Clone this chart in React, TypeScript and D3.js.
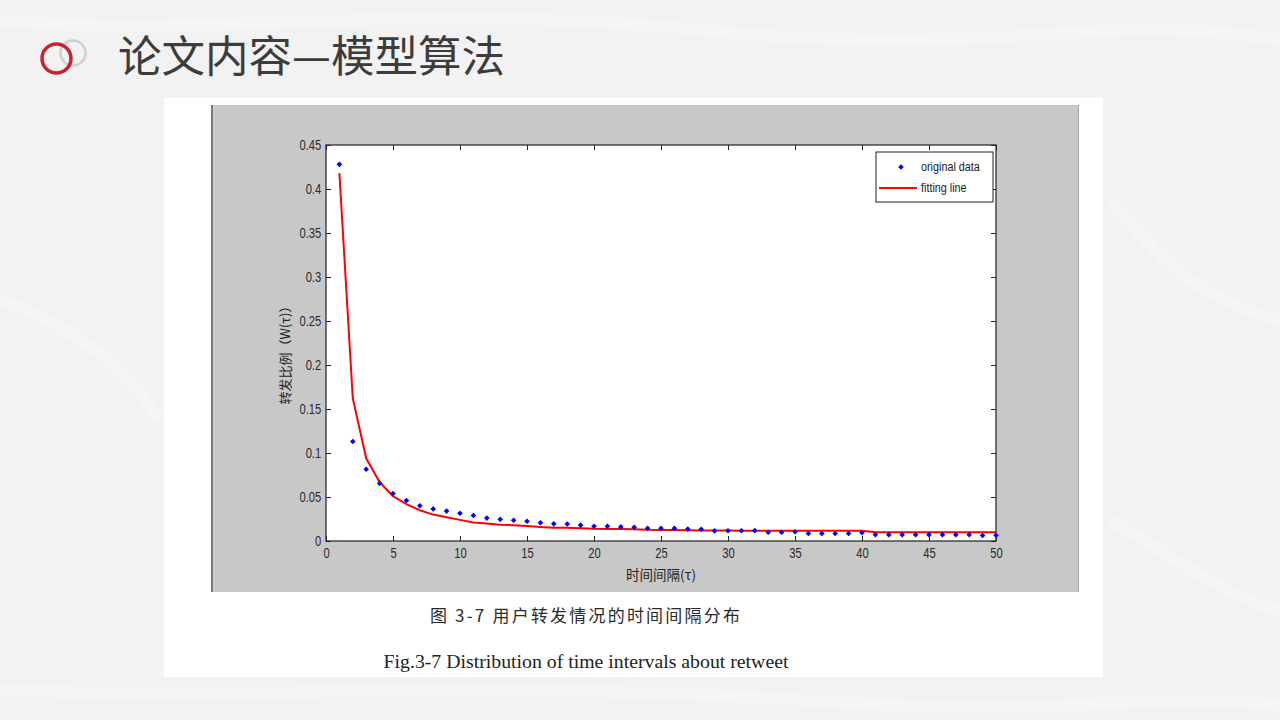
import React, { useEffect, useRef } from 'react';
import * as d3 from 'd3';

// 时间间隔 τ
const intervals = [
  1, 2, 3, 4, 5, 6, 7, 8, 9, 10, 11, 12, 13, 14, 15, 16, 17, 18, 19, 20, 21, 22, 23, 24, 25,
  26, 27, 28, 29, 30, 31, 32, 33, 34, 35, 36, 37, 38, 39, 40, 41, 42, 43, 44, 45, 46, 47, 48, 49, 50,
];
// original data
const originalData = [
  0.428, 0.113, 0.0815, 0.0655, 0.054, 0.046, 0.04, 0.0365, 0.034, 0.0315,
  0.029, 0.026, 0.0246, 0.0235, 0.0224, 0.0208, 0.0195, 0.0193, 0.018, 0.0168,
  0.0167, 0.016, 0.0155, 0.0145, 0.0144, 0.0144, 0.0135, 0.0133, 0.0115, 0.0117,
  0.0117, 0.0118, 0.01, 0.01, 0.0105, 0.0085, 0.0085, 0.0085, 0.0085, 0.0093,
  0.0073, 0.0072, 0.0072, 0.0072, 0.0072, 0.0072, 0.0072, 0.0072, 0.0062, 0.0065,
];
// fitting line
const fittingLine = [
  0.418, 0.162, 0.094, 0.067, 0.051, 0.042, 0.035, 0.03, 0.027, 0.024,
  0.021, 0.02, 0.0185, 0.018, 0.017, 0.016, 0.015, 0.015, 0.0145, 0.0138,
  0.0136, 0.0135, 0.0133, 0.0127, 0.0125, 0.0124, 0.0123, 0.012, 0.0119, 0.0118,
  0.0117, 0.0117, 0.0117, 0.0117, 0.0117, 0.0117, 0.0117, 0.0117, 0.0117, 0.0116,
  0.0099, 0.0099, 0.0099, 0.0099, 0.0099, 0.0099, 0.0099, 0.0099, 0.0099, 0.0099,
];
const xTicks = [0, 5, 10, 15, 20, 25, 30, 35, 40, 45, 50];
const yTicks = [0, 0.05, 0.1, 0.15, 0.2, 0.25, 0.3, 0.35, 0.4, 0.45];
const legendLabels = ['original data', 'fitting line'];

const sans = '"Liberation Sans", Arial, sans-serif';
const cjk = '"Noto Sans CJK SC", sans-serif';
// 窄字体没装，用横向压缩代替
const squeeze = 'scale(0.8,1)';

export default function App() {
  const ref = useRef<SVGSVGElement>(null);

  useEffect(() => {
    const svg = d3.select(ref.current);
    svg.selectAll('*').remove();

    // 背景
    svg.append('rect').attr('width', 1280).attr('height', 720).attr('fill', '#f2f2f2');
    const strokes = [
      'M0,20 C200,40 400,0 700,30 S1100,10 1280,40',
      'M0,690 C250,700 500,680 800,700 S1100,690 1280,705',
      'M1110,200 C1160,260 1200,300 1280,320',
      'M0,300 C60,320 120,360 160,420',
      'M1110,520 C1180,560 1230,600 1280,610',
    ];
    svg.append('g').selectAll('path').data(strokes).enter().append('path')
      .attr('d', d => d).attr('fill', 'none').attr('stroke', '#f7f7f7').attr('stroke-width', 12)
      .attr('opacity', 0.6);

    // 标题
    svg.append('circle').attr('cx', 73).attr('cy', 53).attr('r', 12.5)
      .attr('fill', 'none').attr('stroke', '#cfcfcf').attr('stroke-width', 2.5);
    svg.append('circle').attr('cx', 56.5).attr('cy', 58.5).attr('r', 14.5)
      .attr('fill', 'none').attr('stroke', '#c5242e').attr('stroke-width', 3.5);
    svg.append('text').attr('x', 118).attr('y', 72)
      .attr('font-family', cjk).attr('font-size', 43.5).attr('fill', '#3c3c3c')
      .text('论文内容—模型算法');

    // 白色底板 + 灰色图框
    svg.append('rect').attr('x', 164).attr('y', 98).attr('width', 939).attr('height', 579).attr('fill', '#ffffff');
    svg.append('rect').attr('x', 211).attr('y', 105).attr('width', 868).attr('height', 487).attr('fill', '#c8c8c8');
    svg.append('line').attr('x1', 212).attr('x2', 212).attr('y1', 105).attr('y2', 592)
      .attr('stroke', '#7a7a7a').attr('stroke-width', 2);
    svg.append('line').attr('x1', 1078.5).attr('x2', 1078.5).attr('y1', 105).attr('y2', 592)
      .attr('stroke', '#a8a8a8').attr('stroke-width', 1);

    const x = d3.scaleLinear().domain([0, 50]).range([326, 996]);
    const y = d3.scaleLinear().domain([0, 0.45]).range([541, 145]);

    svg.append('rect').attr('x', x(0)).attr('y', y(0.45))
      .attr('width', x(50) - x(0)).attr('height', y(0) - y(0.45))
      .attr('fill', '#ffffff');

    const fmt = (d: any) => String(+(+d).toFixed(2));

    const gx = svg.append('g').attr('transform', `translate(0,${y(0)})`)
      .call(d3.axisBottom(x).tickValues(xTicks).tickSize(-5).tickPadding(7).tickFormat(fmt));
    const gxTop = svg.append('g').attr('transform', `translate(0,${y(0.45)})`)
      .call(d3.axisTop(x).tickValues(xTicks).tickSize(-5).tickFormat(() => ''));
    const gy = svg.append('g').attr('transform', `translate(${x(0)},0)`)
      .call(d3.axisLeft(y).tickValues(yTicks).tickSize(-5).tickPadding(6).tickFormat(fmt));
    const gyRight = svg.append('g').attr('transform', `translate(${x(50)},0)`)
      .call(d3.axisRight(y).tickValues(yTicks).tickSize(-5).tickFormat(() => ''));

    [gx, gxTop, gy, gyRight].forEach(g => {
      g.select('.domain').remove();
      g.selectAll('line').attr('stroke', '#222');
      g.selectAll('text').attr('font-family', sans).attr('font-size', 14).attr('fill', '#2a2a2a')
        .attr('transform', squeeze);
    });

    svg.append('rect').attr('x', x(0)).attr('y', y(0.45))
      .attr('width', x(50) - x(0)).attr('height', y(0) - y(0.45))
      .attr('fill', 'none').attr('stroke', '#222').attr('stroke-width', 1.2);

    // 坐标轴标题
    svg.append('text').attr('x', (x(0) + x(50)) / 2).attr('y', 580).attr('text-anchor', 'middle')
      .attr('font-family', cjk).attr('font-size', 13.5).attr('fill', '#222')
      .text('时间间隔(τ)');
    svg.append('text').attr('transform', 'translate(290,352) rotate(-90)').attr('text-anchor', 'middle')
      .attr('font-family', cjk).attr('font-size', 13).attr('fill', '#222')
      .text('转发比例（W(τ)）');

    // fitting line
    const line = d3.line<number>()
      .x((d, i) => x(intervals[i]))
      .y(d => y(d));
    svg.append('path').datum(fittingLine).attr('d', line)
      .attr('fill', 'none').attr('stroke', '#ff0000').attr('stroke-width', 2);

    // original data
    const sym = d3.symbol().type(d3.symbolDiamond2).size(20);
    svg.append('g').selectAll('path').data(originalData).enter().append('path')
      .attr('transform', (d, i) => `translate(${x(intervals[i])},${y(d)})`)
      .attr('d', sym as any)
      .attr('fill', '#0000ff');

    // 图例
    const lg = svg.append('g');
    lg.append('rect').attr('x', 876).attr('y', 152).attr('width', 117).attr('height', 50)
      .attr('fill', '#ffffff').attr('stroke', '#222').attr('stroke-width', 1);
    lg.append('path').attr('transform', 'translate(901,167)').attr('d', sym as any).attr('fill', '#0000ff');
    lg.append('line').attr('x1', 879).attr('x2', 917).attr('y1', 188).attr('y2', 188)
      .attr('stroke', '#ff0000').attr('stroke-width', 2);
    lg.selectAll('text.lbl').data(legendLabels).enter().append('text')
      .attr('class', 'lbl')
      .attr('transform', (d, i) => `translate(921,${171 + i * 21}) ${squeeze}`)
      .attr('font-family', sans).attr('font-size', 13.5).attr('fill', '#222')
      .text(d => d);

    // 图注
    svg.append('text').attr('x', 586).attr('y', 622).attr('text-anchor', 'middle')
      .attr('font-family', '"Noto Sans CJK SC", serif')
      .attr('font-size', 17).attr('fill', '#2a2a2a')
      .attr('letter-spacing', 2.2)
      .text('图 3-7 用户转发情况的时间间隔分布');
    svg.append('text').attr('x', 586).attr('y', 668).attr('text-anchor', 'middle')
      .attr('font-family', '"Liberation Serif", serif').attr('font-size', 19.8).attr('fill', '#222')
      .text('Fig.3-7 Distribution of time intervals about retweet');
  }, []);

  return (
    <svg ref={ref} width={1280} height={720}
      style={{ position: 'fixed', left: 0, top: 0, display: 'block' }} />
  );
}
